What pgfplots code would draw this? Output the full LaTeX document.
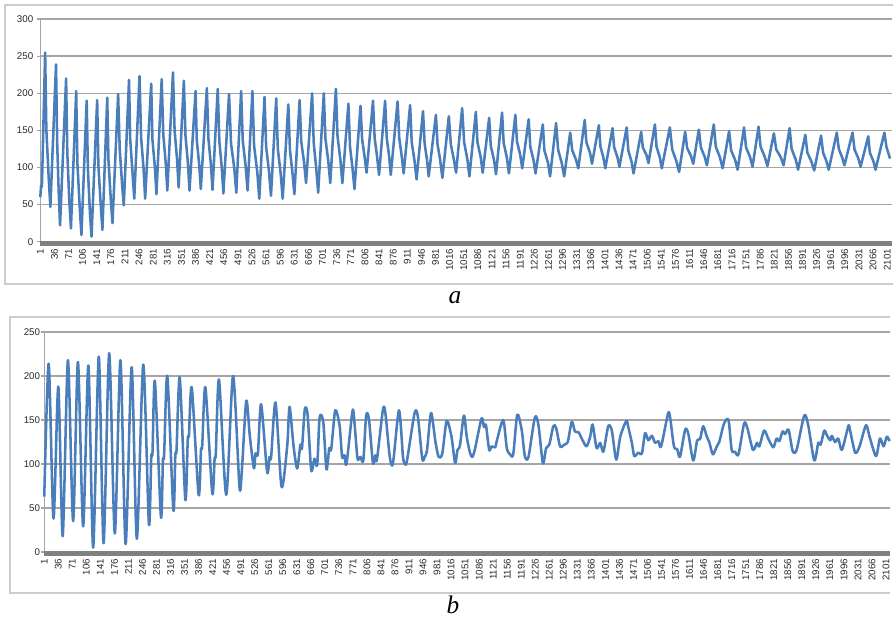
\documentclass[border=0pt]{standalone}
\usepackage{pgfplots}
\pgfplotsset{compat=1.18}
\usepackage{fontspec}
\setmainfont{Liberation Sans}
\newfontfamily\capfont{Liberation Serif}
\definecolor{seriesblue}{RGB}{74,126,187}
\definecolor{gridgray}{RGB}{165,165,165}
\definecolor{bandgray}{RGB}{128,128,128}
\definecolor{framegray}{RGB}{205,205,205}
\definecolor{tickcol}{RGB}{40,40,40}

\pgfplotsset{
  excelstyle/.style={
    scale only axis, anchor=south west, clip=false,
    axis lines*=left,
    x axis line style={draw=none},
    y axis line style={draw=gridgray, line width=1.1pt},
    ymajorgrids, major grid style={draw=gridgray, line width=1.1pt},
    tick align=outside, major tick length=2.5pt,
    xtick style={draw=none},
    ytick style={draw=gridgray, line width=1pt},
    scaled x ticks=false, scaled y ticks=false,
    ticklabel style={font=\fontsize{7.3}{8}\selectfont, text=tickcol},
    /pgf/number format/assume math mode=true,
    xticklabel style={rotate=90, anchor=east, inner sep=0pt, xshift=-2.6pt, /pgf/number format/1000 sep={}},
    yticklabel style={anchor=east, inner sep=0pt},
    xtick={1,36,...,2101},
  }
}

\begin{document}
\begin{tikzpicture}
\useasboundingbox (0,0) rectangle (671.25pt,471pt);
% chart area frames
\draw[framegray, line width=1.1pt] (669.75pt,467.25pt) -- (3.75pt,467.25pt) -- (3.75pt,258pt) -- (669.75pt,258pt);
\draw[framegray, line width=1.1pt] (667.5pt,233.25pt) -- (7.5pt,233.25pt) -- (7.5pt,26.25pt) -- (667.5pt,26.25pt);

% ---------------- panel a ----------------
\begin{axis}[excelstyle,
  at={(30.225pt,289.7pt)}, width=638.5pt, height=167pt,
  xmin=1, xmax=2112, ymin=0, ymax=300, ytick={0,50,...,300},
  yticklabel style={xshift=-2.6pt},
]
\fill[bandgray] ([yshift=-3.3pt]axis description cs:0,0) rectangle ([yshift=0.7pt]axis description cs:1,0);
\addplot[seriesblue, line width=1.9pt, line join=round, no marks] table {
1 60
3 76
5 74
13 255
16 151
22 84
26 47
40 239
43 130
47 61
50 22
65 220
68 119
73 54
77 18
90 203
93 106
99 44
103 9
116 190
119 98
124 40
128 7
142 191
145 103
151 48
155 16
167 194
170 110
176 55
180 25
194 199
198 124
204 76
208 49
221 218
224 138
230 90
234 58
247 223
251 140
257 99
261 58
276 213
279 138
285 101
289 64
302 219
306 144
312 106
316 69
330 228
334 150
340 112
344 73
357 217
361 143
367 106
371 69
386 203
389 137
395 104
399 71
414 207
418 138
424 104
428 70
441 206
445 135
451 100
455 65
469 199
474 132
482 99
487 66
499 203
503 136
510 103
515 69
527 203
531 130
539 94
544 58
557 195
561 128
568 95
573 62
586 193
590 125
597 92
602 58
616 185
620 124
626 94
631 64
644 191
648 135
655 107
660 79
675 200
679 133
685 100
690 66
704 200
708 139
715 109
720 79
734 206
738 142
745 111
750 79
765 186
769 128
775 100
780 71
795 183
799 138
805 115
810 93
826 190
830 140
836 115
841 90
856 190
860 140
866 115
870 90
887 189
891 140
897 116
902 92
918 184
922 134
929 109
934 84
950 176
954 132
960 110
964 88
982 171
986 131
992 112
998 86
1014 169
1019 131
1026 112
1032 93
1047 180
1052 134
1060 111
1065 88
1081 175
1085 134
1093 114
1098 93
1114 167
1118 129
1126 110
1131 91
1146 174
1150 133
1158 113
1163 92
1179 171
1183 135
1191 117
1196 99
1212 165
1216 128
1224 110
1229 92
1247 158
1251 123
1260 106
1265 88
1280 160
1285 124
1294 106
1300 88
1315 147
1320 123
1329 111
1335 99
1351 164
1355 134
1364 120
1369 105
1386 157
1390 128
1397 114
1402 99
1420 153
1424 127
1432 114
1437 101
1455 154
1459 123
1467 108
1472 92
1491 148
1495 127
1504 117
1509 106
1525 158
1529 128
1537 114
1542 99
1562 154
1568 124
1578 109
1585 94
1600 148
1605 126
1614 116
1620 105
1634 151
1639 127
1648 115
1654 103
1671 158
1676 128
1686 114
1693 99
1709 149
1714 123
1724 110
1730 97
1746 154
1751 127
1761 114
1767 101
1782 155
1787 128
1797 115
1804 102
1820 146
1826 124
1837 114
1844 103
1859 153
1864 125
1874 111
1880 97
1898 144
1903 120
1913 108
1920 96
1937 143
1942 120
1950 109
1956 97
1976 147
1981 125
1989 114
1995 103
2015 147
2020 124
2029 113
2035 101
2054 142
2058 120
2067 108
2072 97
2094 147
2099 128
2108 112
};
\end{axis}

% ---------------- panel b ----------------
\begin{axis}[excelstyle,
  at={(33.2pt,57pt)}, width=634.3pt, height=165pt,
  xmin=1, xmax=2111, ymin=0, ymax=250, ytick={0,50,...,250},
  yticklabel style={xshift=-0.5pt},
]
\fill[bandgray] ([yshift=-3pt]axis description cs:0,0) rectangle ([yshift=1pt]axis description cs:1,0);
\addplot[seriesblue, line width=1.9pt, line join=round, no marks, smooth, tension=0.45] table {
1 63
12 214
24 38
36 188
47 18
60 218
73 35
85 216
98 29
111 212
123 5
137 222
149 10
163 226
177 21
191 218
204 9
219 210
232 15
248 213
262 32
268 108
271 113
277 194
292 40
297 104
300 110
308 200
323 48
328 110
331 116
339 198
353 59
359 128
362 133
369 187
386 65
392 116
395 120
403 187
420 67
426 106
429 112
437 196
455 65
472 200
488 74
494 93
505 172
514 131
524 95
528 112
534 112
542 168
557 91
563 108
567 108
578 170
593 74
607 120
613 165
623 120
632 95
640 122
644 118
651 162
658 156
667 93
675 106
682 99
688 153
697 148
705 94
712 118
717 117
727 161
738 143
744 108
750 110
755 100
769 157
773 157
782 108
786 106
790 108
797 104
804 155
811 151
821 101
827 110
831 105
846 162
852 158
863 108
871 101
886 161
896 108
901 100
906 104
925 158
933 154
944 106
950 108
956 116
966 158
977 125
985 108
994 112
1005 149
1017 131
1026 101
1032 116
1038 121
1048 155
1055 131
1063 113
1069 108
1076 118
1092 152
1098 142
1103 144
1111 116
1117 120
1126 119
1131 128
1146 150
1155 118
1163 111
1171 111
1181 156
1192 139
1200 109
1209 108
1225 153
1234 144
1245 101
1253 118
1261 122
1271 143
1278 141
1288 120
1298 122
1307 125
1317 148
1325 137
1334 136
1344 127
1354 120
1363 131
1369 145
1379 118
1388 124
1396 114
1408 143
1417 138
1428 105
1438 131
1453 149
1458 142
1467 124
1473 109
1483 113
1492 112
1500 135
1508 127
1517 132
1525 124
1533 126
1540 120
1557 157
1562 154
1572 120
1580 117
1587 108
1600 139
1608 134
1620 104
1630 127
1637 128
1645 143
1654 131
1660 125
1669 111
1679 120
1685 125
1697 146
1708 150
1716 116
1724 114
1733 111
1747 146
1755 141
1769 116
1779 124
1785 120
1797 138
1808 128
1820 119
1828 129
1835 126
1843 137
1849 134
1858 139
1868 115
1878 116
1897 155
1907 144
1922 104
1932 124
1938 122
1947 138
1953 133
1962 127
1966 132
1974 125
1982 129
1991 116
2007 143
2011 139
2024 113
2035 120
2051 144
2060 131
2076 109
2086 129
2095 120
2103 131
2110 126
};
\end{axis}

\node[inner sep=0pt, font=\capfont\itshape\fontsize{19}{20}\selectfont] at (341.25pt,247.5pt) {a};
\node[inner sep=0pt, font=\capfont\itshape\fontsize{19}{20}\selectfont] at (339.75pt,17.25pt) {b};
\end{tikzpicture}
\end{document}
